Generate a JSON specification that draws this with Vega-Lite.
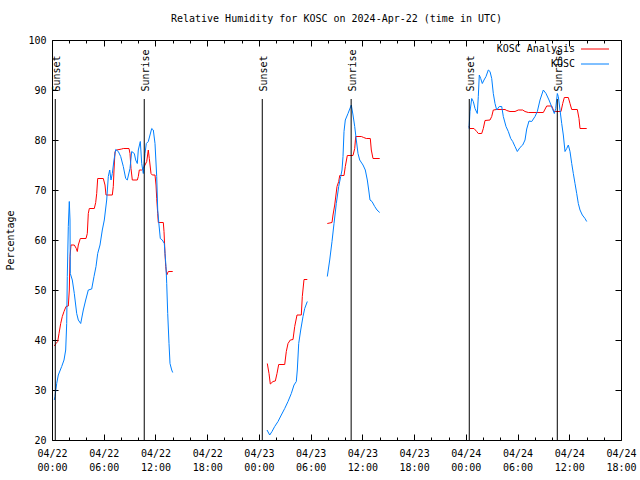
{
  "$schema": "https://vega.github.io/schema/vega-lite/v6.json",
  "width": 569,
  "height": 400,
  "autosize": {"type": "none"},
  "padding": {"left": 52, "top": 40, "right": 19, "bottom": 40},
  "background": "white",
  "title": {"text": "Relative Humidity for KOSC on 2024-Apr-22 (time in UTC)", "font": "DejaVu Sans Mono", "fontSize": 10, "fontWeight": "normal", "color": "black", "anchor": "middle", "offset": 11},
  "config": {
    "view": {"stroke": "black", "strokeWidth": 1},
    "font": "DejaVu Sans Mono",
    "axis": {"grid": false, "domain": false, "labelFont": "DejaVu Sans Mono", "labelFontSize": 10, "labelColor": "black", "titleFont": "DejaVu Sans Mono", "titleFontSize": 10, "titleFontWeight": "normal", "titleColor": "black", "tickColor": "black", "tickWidth": 1}
  },
  "datasets": {
    "rh": [
      {"series": "KOSC Analysis", "seg": 1, "hour": 0.267, "rh": 38.8},
      {"series": "KOSC Analysis", "seg": 1, "hour": 0.464, "rh": 39.3},
      {"series": "KOSC Analysis", "seg": 1, "hour": 0.661, "rh": 39.7},
      {"series": "KOSC Analysis", "seg": 1, "hour": 0.812, "rh": 41.3},
      {"series": "KOSC Analysis", "seg": 1, "hour": 1.009, "rh": 43.3},
      {"series": "KOSC Analysis", "seg": 1, "hour": 1.195, "rh": 44.7},
      {"series": "KOSC Analysis", "seg": 1, "hour": 1.392, "rh": 45.7},
      {"series": "KOSC Analysis", "seg": 1, "hour": 1.624, "rh": 46.7},
      {"series": "KOSC Analysis", "seg": 1, "hour": 1.891, "rh": 46.8},
      {"series": "KOSC Analysis", "seg": 1, "hour": 2.007, "rh": 50},
      {"series": "KOSC Analysis", "seg": 1, "hour": 2.088, "rh": 56.7},
      {"series": "KOSC Analysis", "seg": 1, "hour": 2.204, "rh": 59},
      {"series": "KOSC Analysis", "seg": 1, "hour": 2.587, "rh": 59},
      {"series": "KOSC Analysis", "seg": 1, "hour": 2.819, "rh": 58.3},
      {"series": "KOSC Analysis", "seg": 1, "hour": 2.935, "rh": 57.7},
      {"series": "KOSC Analysis", "seg": 1, "hour": 3.051, "rh": 59},
      {"series": "KOSC Analysis", "seg": 1, "hour": 3.283, "rh": 60.3},
      {"series": "KOSC Analysis", "seg": 1, "hour": 3.944, "rh": 60.3},
      {"series": "KOSC Analysis", "seg": 1, "hour": 4.095, "rh": 61.3},
      {"series": "KOSC Analysis", "seg": 1, "hour": 4.211, "rh": 65.3},
      {"series": "KOSC Analysis", "seg": 1, "hour": 4.327, "rh": 66.3},
      {"series": "KOSC Analysis", "seg": 1, "hour": 4.907, "rh": 66.3},
      {"series": "KOSC Analysis", "seg": 1, "hour": 5.069, "rh": 67.5},
      {"series": "KOSC Analysis", "seg": 1, "hour": 5.185, "rh": 69.3},
      {"series": "KOSC Analysis", "seg": 1, "hour": 5.301, "rh": 72.3},
      {"series": "KOSC Analysis", "seg": 1, "hour": 5.951, "rh": 72.3},
      {"series": "KOSC Analysis", "seg": 1, "hour": 6.148, "rh": 71},
      {"series": "KOSC Analysis", "seg": 1, "hour": 6.264, "rh": 69},
      {"series": "KOSC Analysis", "seg": 1, "hour": 6.995, "rh": 69},
      {"series": "KOSC Analysis", "seg": 1, "hour": 7.111, "rh": 70.7},
      {"series": "KOSC Analysis", "seg": 1, "hour": 7.192, "rh": 74},
      {"series": "KOSC Analysis", "seg": 1, "hour": 7.308, "rh": 77.7},
      {"series": "KOSC Analysis", "seg": 1, "hour": 7.505, "rh": 78},
      {"series": "KOSC Analysis", "seg": 1, "hour": 8.085, "rh": 78.2},
      {"series": "KOSC Analysis", "seg": 1, "hour": 8.271, "rh": 78.3},
      {"series": "KOSC Analysis", "seg": 1, "hour": 8.932, "rh": 78.3},
      {"series": "KOSC Analysis", "seg": 1, "hour": 9.048, "rh": 77.3},
      {"series": "KOSC Analysis", "seg": 1, "hour": 9.164, "rh": 74.3},
      {"series": "KOSC Analysis", "seg": 1, "hour": 9.314, "rh": 72},
      {"series": "KOSC Analysis", "seg": 1, "hour": 9.895, "rh": 72},
      {"series": "KOSC Analysis", "seg": 1, "hour": 10.011, "rh": 72.7},
      {"series": "KOSC Analysis", "seg": 1, "hour": 10.127, "rh": 74},
      {"series": "KOSC Analysis", "seg": 1, "hour": 10.405, "rh": 74},
      {"series": "KOSC Analysis", "seg": 1, "hour": 10.591, "rh": 74.3},
      {"series": "KOSC Analysis", "seg": 1, "hour": 10.788, "rh": 75},
      {"series": "KOSC Analysis", "seg": 1, "hour": 10.985, "rh": 75.7},
      {"series": "KOSC Analysis", "seg": 1, "hour": 11.17, "rh": 78},
      {"series": "KOSC Analysis", "seg": 1, "hour": 11.286, "rh": 76.3},
      {"series": "KOSC Analysis", "seg": 1, "hour": 11.484, "rh": 73.3},
      {"series": "KOSC Analysis", "seg": 1, "hour": 11.634, "rh": 73},
      {"series": "KOSC Analysis", "seg": 1, "hour": 11.948, "rh": 73},
      {"series": "KOSC Analysis", "seg": 1, "hour": 12.064, "rh": 71},
      {"series": "KOSC Analysis", "seg": 1, "hour": 12.145, "rh": 68.3},
      {"series": "KOSC Analysis", "seg": 1, "hour": 12.261, "rh": 65.3},
      {"series": "KOSC Analysis", "seg": 1, "hour": 12.33, "rh": 63.5},
      {"series": "KOSC Analysis", "seg": 1, "hour": 12.91, "rh": 63.5},
      {"series": "KOSC Analysis", "seg": 1, "hour": 12.992, "rh": 61.7},
      {"series": "KOSC Analysis", "seg": 1, "hour": 13.108, "rh": 57.3},
      {"series": "KOSC Analysis", "seg": 1, "hour": 13.189, "rh": 54.7},
      {"series": "KOSC Analysis", "seg": 1, "hour": 13.305, "rh": 53},
      {"series": "KOSC Analysis", "seg": 1, "hour": 13.491, "rh": 53.7},
      {"series": "KOSC Analysis", "seg": 1, "hour": 14.001, "rh": 53.7},
      {"series": "KOSC Analysis", "seg": 2, "hour": 24.974, "rh": 35.3},
      {"series": "KOSC Analysis", "seg": 2, "hour": 25.171, "rh": 33.3},
      {"series": "KOSC Analysis", "seg": 2, "hour": 25.322, "rh": 31.2},
      {"series": "KOSC Analysis", "seg": 2, "hour": 25.635, "rh": 31.7},
      {"series": "KOSC Analysis", "seg": 2, "hour": 25.902, "rh": 31.8},
      {"series": "KOSC Analysis", "seg": 2, "hour": 26.099, "rh": 33.3},
      {"series": "KOSC Analysis", "seg": 2, "hour": 26.296, "rh": 35.1},
      {"series": "KOSC Analysis", "seg": 2, "hour": 26.992, "rh": 35.1},
      {"series": "KOSC Analysis", "seg": 2, "hour": 27.178, "rh": 37.7},
      {"series": "KOSC Analysis", "seg": 2, "hour": 27.375, "rh": 39.3},
      {"series": "KOSC Analysis", "seg": 2, "hour": 27.642, "rh": 40},
      {"series": "KOSC Analysis", "seg": 2, "hour": 27.955, "rh": 40.1},
      {"series": "KOSC Analysis", "seg": 2, "hour": 28.152, "rh": 42.7},
      {"series": "KOSC Analysis", "seg": 2, "hour": 28.419, "rh": 45},
      {"series": "KOSC Analysis", "seg": 2, "hour": 28.918, "rh": 45},
      {"series": "KOSC Analysis", "seg": 2, "hour": 29.034, "rh": 48.7},
      {"series": "KOSC Analysis", "seg": 2, "hour": 29.231, "rh": 52.1},
      {"series": "KOSC Analysis", "seg": 2, "hour": 29.614, "rh": 52.1},
      {"series": "KOSC Analysis", "seg": 3, "hour": 31.934, "rh": 63.3},
      {"series": "KOSC Analysis", "seg": 3, "hour": 32.479, "rh": 63.5},
      {"series": "KOSC Analysis", "seg": 3, "hour": 32.595, "rh": 65},
      {"series": "KOSC Analysis", "seg": 3, "hour": 32.792, "rh": 67},
      {"series": "KOSC Analysis", "seg": 3, "hour": 33.059, "rh": 70.7},
      {"series": "KOSC Analysis", "seg": 3, "hour": 33.256, "rh": 71.7},
      {"series": "KOSC Analysis", "seg": 3, "hour": 33.372, "rh": 72.9},
      {"series": "KOSC Analysis", "seg": 3, "hour": 33.871, "rh": 72.9},
      {"series": "KOSC Analysis", "seg": 3, "hour": 34.021, "rh": 74.7},
      {"series": "KOSC Analysis", "seg": 3, "hour": 34.253, "rh": 76.9},
      {"series": "KOSC Analysis", "seg": 3, "hour": 34.915, "rh": 76.9},
      {"series": "KOSC Analysis", "seg": 3, "hour": 35.112, "rh": 78.3},
      {"series": "KOSC Analysis", "seg": 3, "hour": 35.228, "rh": 80.7},
      {"series": "KOSC Analysis", "seg": 3, "hour": 35.878, "rh": 80.7},
      {"series": "KOSC Analysis", "seg": 3, "hour": 36.156, "rh": 80.5},
      {"series": "KOSC Analysis", "seg": 3, "hour": 36.458, "rh": 80.3},
      {"series": "KOSC Analysis", "seg": 3, "hour": 36.922, "rh": 80.3},
      {"series": "KOSC Analysis", "seg": 3, "hour": 37.038, "rh": 78},
      {"series": "KOSC Analysis", "seg": 3, "hour": 37.235, "rh": 76.3},
      {"series": "KOSC Analysis", "seg": 3, "hour": 38.012, "rh": 76.3},
      {"series": "KOSC Analysis", "seg": 4, "hour": 48.37, "rh": 82.7},
      {"series": "KOSC Analysis", "seg": 4, "hour": 48.486, "rh": 82.3},
      {"series": "KOSC Analysis", "seg": 4, "hour": 48.95, "rh": 82.3},
      {"series": "KOSC Analysis", "seg": 4, "hour": 49.263, "rh": 81.7},
      {"series": "KOSC Analysis", "seg": 4, "hour": 49.449, "rh": 81.3},
      {"series": "KOSC Analysis", "seg": 4, "hour": 49.843, "rh": 81.3},
      {"series": "KOSC Analysis", "seg": 4, "hour": 50.029, "rh": 82.3},
      {"series": "KOSC Analysis", "seg": 4, "hour": 50.226, "rh": 83.9},
      {"series": "KOSC Analysis", "seg": 4, "hour": 50.806, "rh": 84},
      {"series": "KOSC Analysis", "seg": 4, "hour": 51.003, "rh": 84.7},
      {"series": "KOSC Analysis", "seg": 4, "hour": 51.189, "rh": 86},
      {"series": "KOSC Analysis", "seg": 4, "hour": 51.583, "rh": 86.1},
      {"series": "KOSC Analysis", "seg": 4, "hour": 52.546, "rh": 86.1},
      {"series": "KOSC Analysis", "seg": 4, "hour": 52.743, "rh": 85.9},
      {"series": "KOSC Analysis", "seg": 4, "hour": 53.126, "rh": 85.7},
      {"series": "KOSC Analysis", "seg": 4, "hour": 53.706, "rh": 85.7},
      {"series": "KOSC Analysis", "seg": 4, "hour": 54.089, "rh": 86},
      {"series": "KOSC Analysis", "seg": 4, "hour": 54.599, "rh": 86},
      {"series": "KOSC Analysis", "seg": 4, "hour": 54.866, "rh": 85.7},
      {"series": "KOSC Analysis", "seg": 4, "hour": 55.249, "rh": 85.5},
      {"series": "KOSC Analysis", "seg": 4, "hour": 56.989, "rh": 85.5},
      {"series": "KOSC Analysis", "seg": 4, "hour": 57.383, "rh": 86.8},
      {"series": "KOSC Analysis", "seg": 4, "hour": 57.963, "rh": 86.8},
      {"series": "KOSC Analysis", "seg": 4, "hour": 58.23, "rh": 85.7},
      {"series": "KOSC Analysis", "seg": 4, "hour": 59.042, "rh": 85.7},
      {"series": "KOSC Analysis", "seg": 4, "hour": 59.239, "rh": 87.3},
      {"series": "KOSC Analysis", "seg": 4, "hour": 59.425, "rh": 88.5},
      {"series": "KOSC Analysis", "seg": 4, "hour": 59.889, "rh": 88.5},
      {"series": "KOSC Analysis", "seg": 4, "hour": 60.086, "rh": 87.3},
      {"series": "KOSC Analysis", "seg": 4, "hour": 60.283, "rh": 86.1},
      {"series": "KOSC Analysis", "seg": 4, "hour": 60.933, "rh": 86.1},
      {"series": "KOSC Analysis", "seg": 4, "hour": 61.13, "rh": 84.3},
      {"series": "KOSC Analysis", "seg": 4, "hour": 61.246, "rh": 82.3},
      {"series": "KOSC Analysis", "seg": 4, "hour": 62.023, "rh": 82.3},
      {"series": "KOSC", "seg": 1, "hour": 0.267, "rh": 28},
      {"series": "KOSC", "seg": 1, "hour": 0.348, "rh": 28.7},
      {"series": "KOSC", "seg": 1, "hour": 0.545, "rh": 31.3},
      {"series": "KOSC", "seg": 1, "hour": 0.731, "rh": 33},
      {"series": "KOSC", "seg": 1, "hour": 1.125, "rh": 34.7},
      {"series": "KOSC", "seg": 1, "hour": 1.392, "rh": 36},
      {"series": "KOSC", "seg": 1, "hour": 1.589, "rh": 38},
      {"series": "KOSC", "seg": 1, "hour": 1.705, "rh": 43.3},
      {"series": "KOSC", "seg": 1, "hour": 1.775, "rh": 52.7},
      {"series": "KOSC", "seg": 1, "hour": 1.891, "rh": 62.7},
      {"series": "KOSC", "seg": 1, "hour": 2.007, "rh": 67.7},
      {"series": "KOSC", "seg": 1, "hour": 2.088, "rh": 64},
      {"series": "KOSC", "seg": 1, "hour": 2.123, "rh": 53.3},
      {"series": "KOSC", "seg": 1, "hour": 2.355, "rh": 52},
      {"series": "KOSC", "seg": 1, "hour": 2.587, "rh": 49.3},
      {"series": "KOSC", "seg": 1, "hour": 2.865, "rh": 45.3},
      {"series": "KOSC", "seg": 1, "hour": 3.051, "rh": 44},
      {"series": "KOSC", "seg": 1, "hour": 3.329, "rh": 43.3},
      {"series": "KOSC", "seg": 1, "hour": 3.631, "rh": 46},
      {"series": "KOSC", "seg": 1, "hour": 3.909, "rh": 48},
      {"series": "KOSC", "seg": 1, "hour": 4.211, "rh": 50},
      {"series": "KOSC", "seg": 1, "hour": 4.605, "rh": 50.2},
      {"series": "KOSC", "seg": 1, "hour": 4.872, "rh": 52.7},
      {"series": "KOSC", "seg": 1, "hour": 5.104, "rh": 54.7},
      {"series": "KOSC", "seg": 1, "hour": 5.301, "rh": 57.3},
      {"series": "KOSC", "seg": 1, "hour": 5.568, "rh": 59},
      {"series": "KOSC", "seg": 1, "hour": 5.835, "rh": 62},
      {"series": "KOSC", "seg": 1, "hour": 6.067, "rh": 64},
      {"series": "KOSC", "seg": 1, "hour": 6.345, "rh": 68},
      {"series": "KOSC", "seg": 1, "hour": 6.531, "rh": 72.7},
      {"series": "KOSC", "seg": 1, "hour": 6.693, "rh": 74},
      {"series": "KOSC", "seg": 1, "hour": 6.844, "rh": 72},
      {"series": "KOSC", "seg": 1, "hour": 6.995, "rh": 73.3},
      {"series": "KOSC", "seg": 1, "hour": 7.192, "rh": 76},
      {"series": "KOSC", "seg": 1, "hour": 7.389, "rh": 78.1},
      {"series": "KOSC", "seg": 1, "hour": 7.691, "rh": 77.7},
      {"series": "KOSC", "seg": 1, "hour": 7.969, "rh": 76.7},
      {"series": "KOSC", "seg": 1, "hour": 8.271, "rh": 74.7},
      {"series": "KOSC", "seg": 1, "hour": 8.549, "rh": 72.3},
      {"series": "KOSC", "seg": 1, "hour": 8.735, "rh": 72},
      {"series": "KOSC", "seg": 1, "hour": 9.048, "rh": 74.3},
      {"series": "KOSC", "seg": 1, "hour": 9.245, "rh": 77.7},
      {"series": "KOSC", "seg": 1, "hour": 9.547, "rh": 77.3},
      {"series": "KOSC", "seg": 1, "hour": 9.709, "rh": 76},
      {"series": "KOSC", "seg": 1, "hour": 9.895, "rh": 75.3},
      {"series": "KOSC", "seg": 1, "hour": 10.011, "rh": 78},
      {"series": "KOSC", "seg": 1, "hour": 10.243, "rh": 79.7},
      {"series": "KOSC", "seg": 1, "hour": 10.405, "rh": 75.3},
      {"series": "KOSC", "seg": 1, "hour": 10.591, "rh": 73.3},
      {"series": "KOSC", "seg": 1, "hour": 10.788, "rh": 77.3},
      {"series": "KOSC", "seg": 1, "hour": 10.939, "rh": 79.3},
      {"series": "KOSC", "seg": 1, "hour": 11.17, "rh": 79.7},
      {"series": "KOSC", "seg": 1, "hour": 11.368, "rh": 81},
      {"series": "KOSC", "seg": 1, "hour": 11.565, "rh": 82.3},
      {"series": "KOSC", "seg": 1, "hour": 11.75, "rh": 82},
      {"series": "KOSC", "seg": 1, "hour": 11.948, "rh": 79.3},
      {"series": "KOSC", "seg": 1, "hour": 12.145, "rh": 72.7},
      {"series": "KOSC", "seg": 1, "hour": 12.261, "rh": 66},
      {"series": "KOSC", "seg": 1, "hour": 12.412, "rh": 63},
      {"series": "KOSC", "seg": 1, "hour": 12.562, "rh": 60.3},
      {"series": "KOSC", "seg": 1, "hour": 12.794, "rh": 60},
      {"series": "KOSC", "seg": 1, "hour": 13.026, "rh": 59.3},
      {"series": "KOSC", "seg": 1, "hour": 13.108, "rh": 57.3},
      {"series": "KOSC", "seg": 1, "hour": 13.224, "rh": 54.7},
      {"series": "KOSC", "seg": 1, "hour": 13.305, "rh": 51.3},
      {"series": "KOSC", "seg": 1, "hour": 13.421, "rh": 45.3},
      {"series": "KOSC", "seg": 1, "hour": 13.572, "rh": 39.3},
      {"series": "KOSC", "seg": 1, "hour": 13.688, "rh": 35.3},
      {"series": "KOSC", "seg": 1, "hour": 13.885, "rh": 34},
      {"series": "KOSC", "seg": 1, "hour": 14.001, "rh": 33.5},
      {"series": "KOSC", "seg": 2, "hour": 24.939, "rh": 22},
      {"series": "KOSC", "seg": 2, "hour": 25.252, "rh": 21},
      {"series": "KOSC", "seg": 2, "hour": 25.519, "rh": 21.7},
      {"series": "KOSC", "seg": 2, "hour": 25.832, "rh": 22.7},
      {"series": "KOSC", "seg": 2, "hour": 26.215, "rh": 23.7},
      {"series": "KOSC", "seg": 2, "hour": 26.598, "rh": 25},
      {"series": "KOSC", "seg": 2, "hour": 26.992, "rh": 26.3},
      {"series": "KOSC", "seg": 2, "hour": 27.375, "rh": 27.7},
      {"series": "KOSC", "seg": 2, "hour": 27.758, "rh": 29.3},
      {"series": "KOSC", "seg": 2, "hour": 28.071, "rh": 31},
      {"series": "KOSC", "seg": 2, "hour": 28.338, "rh": 31.7},
      {"series": "KOSC", "seg": 2, "hour": 28.454, "rh": 34},
      {"series": "KOSC", "seg": 2, "hour": 28.616, "rh": 39.3},
      {"series": "KOSC", "seg": 2, "hour": 28.848, "rh": 42},
      {"series": "KOSC", "seg": 2, "hour": 29.115, "rh": 44.7},
      {"series": "KOSC", "seg": 2, "hour": 29.312, "rh": 46.3},
      {"series": "KOSC", "seg": 2, "hour": 29.614, "rh": 47.7},
      {"series": "KOSC", "seg": 3, "hour": 31.934, "rh": 52.7},
      {"series": "KOSC", "seg": 3, "hour": 32.212, "rh": 56},
      {"series": "KOSC", "seg": 3, "hour": 32.479, "rh": 59.7},
      {"series": "KOSC", "seg": 3, "hour": 32.711, "rh": 63.3},
      {"series": "KOSC", "seg": 3, "hour": 32.978, "rh": 67.3},
      {"series": "KOSC", "seg": 3, "hour": 33.256, "rh": 70.7},
      {"series": "KOSC", "seg": 3, "hour": 33.488, "rh": 72.7},
      {"series": "KOSC", "seg": 3, "hour": 33.639, "rh": 74},
      {"series": "KOSC", "seg": 3, "hour": 33.755, "rh": 76.7},
      {"series": "KOSC", "seg": 3, "hour": 33.871, "rh": 81.7},
      {"series": "KOSC", "seg": 3, "hour": 34.021, "rh": 84},
      {"series": "KOSC", "seg": 3, "hour": 34.335, "rh": 85.3},
      {"series": "KOSC", "seg": 3, "hour": 34.717, "rh": 87},
      {"series": "KOSC", "seg": 3, "hour": 34.915, "rh": 85},
      {"series": "KOSC", "seg": 3, "hour": 35.112, "rh": 82.7},
      {"series": "KOSC", "seg": 3, "hour": 35.297, "rh": 80},
      {"series": "KOSC", "seg": 3, "hour": 35.495, "rh": 77.3},
      {"series": "KOSC", "seg": 3, "hour": 35.692, "rh": 76},
      {"series": "KOSC", "seg": 3, "hour": 36.075, "rh": 75},
      {"series": "KOSC", "seg": 3, "hour": 36.342, "rh": 74},
      {"series": "KOSC", "seg": 3, "hour": 36.574, "rh": 72},
      {"series": "KOSC", "seg": 3, "hour": 36.736, "rh": 70},
      {"series": "KOSC", "seg": 3, "hour": 36.887, "rh": 68},
      {"series": "KOSC", "seg": 3, "hour": 37.119, "rh": 67.7},
      {"series": "KOSC", "seg": 3, "hour": 37.432, "rh": 66.7},
      {"series": "KOSC", "seg": 3, "hour": 37.699, "rh": 66},
      {"series": "KOSC", "seg": 3, "hour": 38.012, "rh": 65.5},
      {"series": "KOSC", "seg": 4, "hour": 48.37, "rh": 82.3},
      {"series": "KOSC", "seg": 4, "hour": 48.486, "rh": 85.7},
      {"series": "KOSC", "seg": 4, "hour": 48.683, "rh": 88.3},
      {"series": "KOSC", "seg": 4, "hour": 48.869, "rh": 87.7},
      {"series": "KOSC", "seg": 4, "hour": 49.066, "rh": 86.3},
      {"series": "KOSC", "seg": 4, "hour": 49.333, "rh": 85.3},
      {"series": "KOSC", "seg": 4, "hour": 49.449, "rh": 88.7},
      {"series": "KOSC", "seg": 4, "hour": 49.565, "rh": 93},
      {"series": "KOSC", "seg": 4, "hour": 49.727, "rh": 92.3},
      {"series": "KOSC", "seg": 4, "hour": 49.913, "rh": 91.3},
      {"series": "KOSC", "seg": 4, "hour": 50.11, "rh": 92},
      {"series": "KOSC", "seg": 4, "hour": 50.342, "rh": 92.7},
      {"series": "KOSC", "seg": 4, "hour": 50.609, "rh": 94},
      {"series": "KOSC", "seg": 4, "hour": 50.806, "rh": 93.7},
      {"series": "KOSC", "seg": 4, "hour": 51.003, "rh": 92.3},
      {"series": "KOSC", "seg": 4, "hour": 51.189, "rh": 89.3},
      {"series": "KOSC", "seg": 4, "hour": 51.386, "rh": 87.3},
      {"series": "KOSC", "seg": 4, "hour": 51.583, "rh": 86},
      {"series": "KOSC", "seg": 4, "hour": 51.885, "rh": 86.7},
      {"series": "KOSC", "seg": 4, "hour": 52.163, "rh": 86.7},
      {"series": "KOSC", "seg": 4, "hour": 52.349, "rh": 84.7},
      {"series": "KOSC", "seg": 4, "hour": 52.662, "rh": 82.7},
      {"series": "KOSC", "seg": 4, "hour": 52.929, "rh": 81.7},
      {"series": "KOSC", "seg": 4, "hour": 53.207, "rh": 80.3},
      {"series": "KOSC", "seg": 4, "hour": 53.439, "rh": 79.7},
      {"series": "KOSC", "seg": 4, "hour": 53.706, "rh": 78.7},
      {"series": "KOSC", "seg": 4, "hour": 53.973, "rh": 77.7},
      {"series": "KOSC", "seg": 4, "hour": 54.286, "rh": 78.5},
      {"series": "KOSC", "seg": 4, "hour": 54.599, "rh": 79},
      {"series": "KOSC", "seg": 4, "hour": 54.866, "rh": 80},
      {"series": "KOSC", "seg": 4, "hour": 55.063, "rh": 82.2},
      {"series": "KOSC", "seg": 4, "hour": 55.33, "rh": 83.8},
      {"series": "KOSC", "seg": 4, "hour": 55.643, "rh": 83.7},
      {"series": "KOSC", "seg": 4, "hour": 56.026, "rh": 84.7},
      {"series": "KOSC", "seg": 4, "hour": 56.293, "rh": 85.7},
      {"series": "KOSC", "seg": 4, "hour": 56.606, "rh": 88},
      {"series": "KOSC", "seg": 4, "hour": 56.989, "rh": 90},
      {"series": "KOSC", "seg": 4, "hour": 57.302, "rh": 89.3},
      {"series": "KOSC", "seg": 4, "hour": 57.65, "rh": 88},
      {"series": "KOSC", "seg": 4, "hour": 57.882, "rh": 87},
      {"series": "KOSC", "seg": 4, "hour": 58.033, "rh": 86.3},
      {"series": "KOSC", "seg": 4, "hour": 58.265, "rh": 85.3},
      {"series": "KOSC", "seg": 4, "hour": 58.427, "rh": 86.3},
      {"series": "KOSC", "seg": 4, "hour": 58.613, "rh": 89.3},
      {"series": "KOSC", "seg": 4, "hour": 58.729, "rh": 88.7},
      {"series": "KOSC", "seg": 4, "hour": 58.926, "rh": 86},
      {"series": "KOSC", "seg": 4, "hour": 59.123, "rh": 83.3},
      {"series": "KOSC", "seg": 4, "hour": 59.309, "rh": 81},
      {"series": "KOSC", "seg": 4, "hour": 59.506, "rh": 77.7},
      {"series": "KOSC", "seg": 4, "hour": 59.703, "rh": 78.3},
      {"series": "KOSC", "seg": 4, "hour": 59.889, "rh": 79},
      {"series": "KOSC", "seg": 4, "hour": 60.086, "rh": 77.7},
      {"series": "KOSC", "seg": 4, "hour": 60.283, "rh": 75.3},
      {"series": "KOSC", "seg": 4, "hour": 60.469, "rh": 73.3},
      {"series": "KOSC", "seg": 4, "hour": 60.666, "rh": 71.3},
      {"series": "KOSC", "seg": 4, "hour": 60.863, "rh": 69.3},
      {"series": "KOSC", "seg": 4, "hour": 61.049, "rh": 67.3},
      {"series": "KOSC", "seg": 4, "hour": 61.246, "rh": 66},
      {"series": "KOSC", "seg": 4, "hour": 61.513, "rh": 65},
      {"series": "KOSC", "seg": 4, "hour": 61.826, "rh": 64.3},
      {"series": "KOSC", "seg": 4, "hour": 62.023, "rh": 63.7}
    ],
    "sun": [
      {"hour": 0.38, "label": "Sunset"},
      {"hour": 10.7, "label": "Sunrise"},
      {"hour": 24.39, "label": "Sunset"},
      {"hour": 34.7, "label": "Sunrise"},
      {"hour": 48.4, "label": "Sunset"},
      {"hour": 58.61, "label": "Sunrise"}
    ]
  },
  "layer": [
    {
      "data": {"name": "rh"},
      "mark": {"type": "line", "strokeWidth": 1, "interpolate": "linear"},
      "encoding": {
        "x": {
          "field": "hour", "type": "quantitative",
          "scale": {"domain": [0, 66], "nice": false, "zero": false},
          "axis": {
            "orient": "bottom", "title": null,
            "values": [0, 2, 4, 6, 8, 10, 12, 14, 16, 18, 20, 22, 24, 26, 28, 30, 32, 34, 36, 38, 40, 42, 44, 46, 48, 50, 52, 54, 56, 58, 60, 62, 64, 66],
            "labelExpr": "datum.value % 6 == 0 ? ['04/' + (22 + floor(datum.value / 24)), ((datum.value % 24) < 10 ? '0' : '') + (datum.value % 24) + ':00'] : ''",
            "tickSize": {"condition": {"test": "datum.value % 6 == 0", "value": -6}, "value": -3},
            "labelPadding": 14, "labelLineHeight": 14, "labelFlush": false, "labelOverlap": false, "labelBound": false, "labelBaseline": "top"
          }
        },
        "y": {
          "field": "rh", "type": "quantitative",
          "scale": {"domain": [20, 100], "nice": false, "zero": false},
          "axis": {
            "orient": "left", "title": "Percentage",
            "values": [20, 30, 40, 50, 60, 70, 80, 90, 100],
            "tickSize": -6, "labelPadding": 12, "labelFlush": false, "labelOverlap": false,
            "titleX": -42, "titleY": 200, "titleAngle": 270, "titleAlign": "center", "titleBaseline": "middle"
          }
        },
        "color": {
          "field": "series", "type": "nominal",
          "scale": {"domain": ["KOSC Analysis", "KOSC"], "range": ["#ff0000", "#0080ff"]},
          "legend": {
            "title": null, "orient": "none", "legendX": 538, "legendY": 4,
            "symbolType": "M-5,0H5", "symbolSize": 31.4, "symbolStrokeWidth": 1, "symbolFillColor": "transparent",
            "labelAlign": "right", "labelOffset": -25, "rowPadding": 5, "padding": 0,
            "labelFont": "DejaVu Sans Mono", "labelFontSize": 10, "labelColor": "black"
          }
        },
        "detail": {"field": "seg", "type": "nominal"}
      }
    },
    {
      "data": {"name": "sun"},
      "mark": {"type": "rule", "color": "black", "strokeWidth": 1},
      "encoding": {
        "x": {
          "field": "hour", "type": "quantitative",
          "axis": {
            "orient": "top", "title": null, "labels": false,
            "values": [0, 2, 4, 6, 8, 10, 12, 14, 16, 18, 20, 22, 24, 26, 28, 30, 32, 34, 36, 38, 40, 42, 44, 46, 48, 50, 52, 54, 56, 58, 60, 62, 64, 66],
            "tickSize": {"condition": {"test": "datum.value % 6 == 0", "value": -6}, "value": -3}
          }
        },
        "y": {
          "datum": 20, "type": "quantitative",
          "axis": {"orient": "right", "title": null, "labels": false, "values": [20, 30, 40, 50, 60, 70, 80, 90, 100], "tickSize": -6}
        },
        "y2": {"datum": 88.2}
      }
    },
    {
      "data": {"name": "sun"},
      "mark": {"type": "text", "angle": 270, "align": "left", "baseline": "alphabetic", "dy": 5, "font": "DejaVu Sans Mono", "fontSize": 10, "color": "black"},
      "encoding": {
        "x": {"field": "hour", "type": "quantitative", "axis": null},
        "y": {"datum": 89.7, "type": "quantitative", "axis": null},
        "text": {"field": "label", "type": "nominal"}
      }
    }
  ],
  "resolve": {"axis": {"x": "independent", "y": "independent"}}
}
